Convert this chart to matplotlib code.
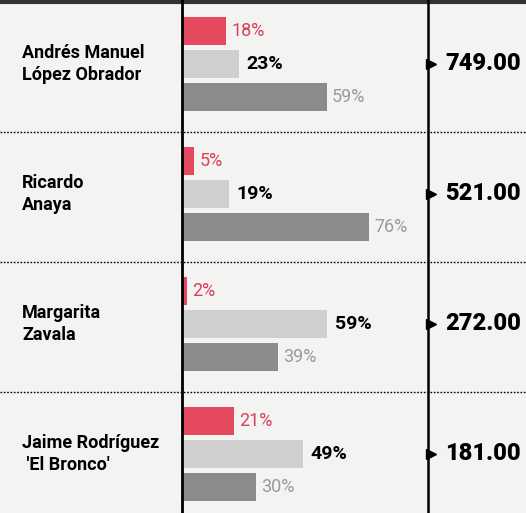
import matplotlib.pyplot as plt
import numpy as np

names = ['Andrés Manuel\nLópez Obrador', 'Ricardo\nAnaya', 'Margarita\nZavala',
         "Jaime Rodríguez\n 'El Bronco'"]
red_pct = [18, 5, 2, 21]
light_pct = [23, 19, 59, 49]
dark_pct = [59, 76, 39, 30]
totals = ['749.00', '521.00', '272.00', '181.00']

red = '#e5495f'
light = '#cfcfcd'
dark = '#8b8b8b'
bg = '#f3f3f1'
font = 'Roboto'

fig = plt.figure(figsize=(5.26, 5.13), dpi=100, facecolor=bg)
ax = fig.add_axes([0, 0, 1, 1])
ax.set_facecolor(bg)
ax.set_xlim(-74, 139.8)
ax.set_ylim(3.454, -0.492)
ax.axis('off')

y = np.arange(len(names))
h = 0.21
off = 0.254
ax.barh(y - off, red_pct, height=h, color=red)
ax.barh(y, light_pct, height=h, color=light)
ax.barh(y + off, dark_pct, height=h, color=dark)

for i in range(len(names)):
    ax.text(red_pct[i] + 2, y[i] - off, f'{red_pct[i]}%', color='#d9415a',
            fontsize=13, va='center', family=font)
    ax.text(light_pct[i] + 3, y[i], f'{light_pct[i]}%', color='black',
            fontsize=14, fontweight='bold', va='center', family=font)
    ax.text(dark_pct[i] + 2, y[i] + off, f'{dark_pct[i]}%', color='#9a9a9a',
            fontsize=13, va='center', family=font)
    ax.text(-65, y[i], names[i], fontsize=13, fontweight='bold', va='center',
            ha='left', linespacing=1.3, family=font)
    ax.text(107, y[i], totals[i], fontsize=17, fontweight='heavy', va='center',
            ha='left', family=font)
    ax.plot(101.2, y[i], marker='>', color='black', markersize=7)

# separators
for b in y[:-1] + 0.523:
    ax.axhline(b, color='black', lw=1, ls=(0, (1.2, 1.2)))
ax.axhline(-0.48, color='#333333', lw=3)

ax.axvline(0, color='black', lw=2)
ax.axvline(100, color='black', lw=1.8)

fig.savefig('out.png', dpi=100, facecolor=bg)
